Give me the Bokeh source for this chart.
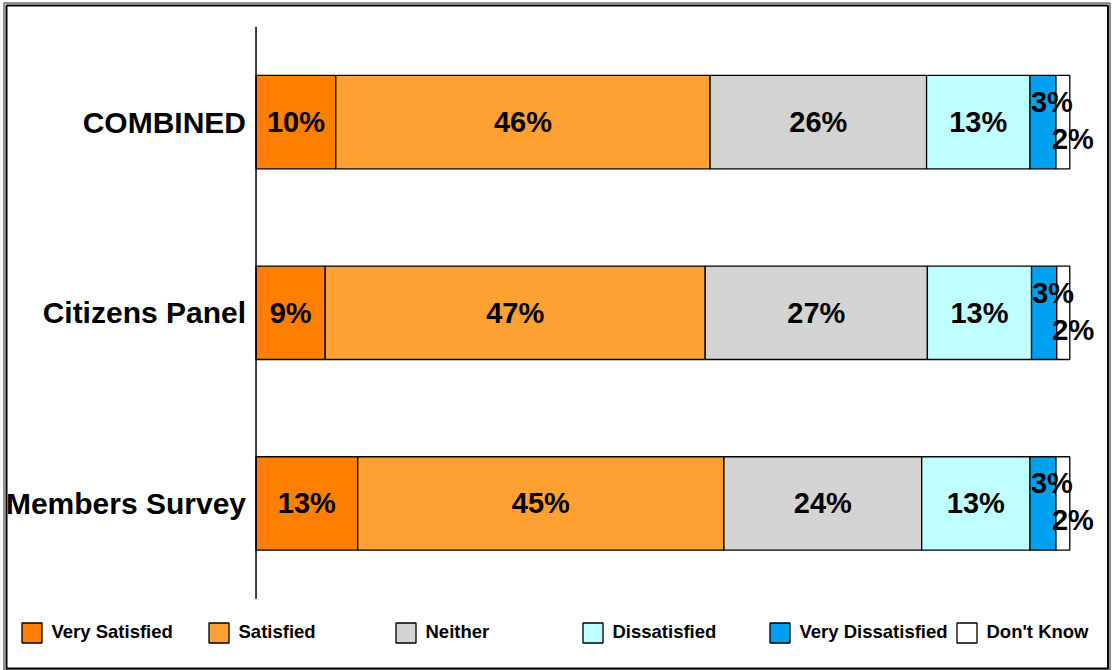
import numpy as np
from bokeh.plotting import figure
from bokeh.models import (ColumnDataSource, Legend, LegendItem, Range1d, BoxAnnotation)
from bokeh.core.properties import value
from bokeh.embed import file_html
from bokeh.resources import INLINE

# ---------------- data ----------------
categories = ["COMBINED", "Citizens Panel", "Members Survey"]
series_names = ["Very Satisfied", "Satisfied", "Neither", "Dissatisfied",
                "Very Dissatisfied", "Don't Know"]

very_satisfied = [9.8, 8.5, 12.5]
satisfied = [46.0, 46.7, 45.0]
neither = [26.6, 27.3, 24.3]
dissatisfied = [12.7, 12.8, 13.3]
very_dissatisfied = [3.2, 3.1, 3.2]
dont_know = [1.7, 1.6, 1.7]

labels_very_satisfied = ["10%", "9%", "13%"]
labels_satisfied = ["46%", "47%", "45%"]
labels_neither = ["26%", "27%", "24%"]
labels_dissatisfied = ["13%", "13%", "13%"]
labels_very_dissatisfied = ["3%", "3%", "3%"]
labels_dont_know = ["2%", "2%", "2%"]

colors = ["#FF8000", "#FFA033", "#D3D3D3", "#C0FFFF", "#00A0F0", "#FFFFFF"]

series_values = [very_satisfied, satisfied, neither, dissatisfied,
                 very_dissatisfied, dont_know]
series_labels = [labels_very_satisfied, labels_satisfied, labels_neither,
                 labels_dissatisfied, labels_very_dissatisfied, labels_dont_know]

# ---------------- figure ----------------
W, H = 1113, 670
n = len(categories)
ypos = np.arange(n)[::-1].astype(float)   # first category on top

p = figure(width=W, height=H,
           x_range=Range1d(-31.40, 105.37),
           y_range=Range1d(-0.876, 2.638),
           x_axis_type=None, y_axis_type=None,
           output_backend="svg", toolbar_location=None,
           min_border=0, min_border_left=0, min_border_right=0,
           min_border_top=0, min_border_bottom=0)

p.outline_line_color = None
p.background_fill_color = "white"
p.border_fill_color = "white"

FONT = value("Liberation Sans")

# bars (stacked)
left = np.zeros(n)
items = []
text_sources = []
for name, vals, labs, col in zip(series_names, series_values, series_labels, colors):
    vals = np.array(vals, dtype=float)
    right = left + vals
    src = ColumnDataSource(dict(y=ypos, left=left.copy(), right=right.copy(),
                                mid=(left + right) / 2, lab=labs))
    r = p.hbar(y="y", left="left", right="right", height=0.49, source=src,
               fill_color=col, line_color="black", line_width=1.3)
    items.append(LegendItem(label=name, renderers=[r]))
    text_sources.append((name, src))
    left = right

# value labels (drawn after all bars)
for name, src in text_sources:
    if name == "Very Dissatisfied":
        xo, yo = 9, -20
    elif name == "Don't Know":
        xo, yo = 10, 17
    else:
        xo, yo = 0, 0
    p.text(x="mid", y="y", text="lab", source=src, text_font=FONT,
           text_font_size="29px", text_font_style="bold", text_color="black",
           text_align="center", text_baseline="middle", x_offset=xo, y_offset=yo)

# category axis: line at 0 spanning the category band, labels to its left
p.segment(x0=[0], y0=[ypos.min() - 0.5], x1=[0], y1=[ypos.max() + 0.5],
          line_color="black", line_width=1.5)
cat_src = ColumnDataSource(dict(x=np.zeros(n), y=ypos, t=categories))
p.text(x="x", y="y", text="t", source=cat_src, text_font=FONT,
       text_font_size="30px", text_font_style="bold", text_color="black",
       text_align="right", text_baseline="middle", x_offset=-10)

legend = Legend(items=items, orientation="horizontal",
                location=(18.5, 25.5),
                glyph_width=25, glyph_height=25, label_standoff=8,
                label_width=150, spacing=4, padding=0, margin=0,
                border_line_color=None, background_fill_alpha=0,
                label_text_font="Liberation Sans", label_text_font_size="18.5px",
                label_text_font_style="bold", label_text_color="black")
p.add_layout(legend)

# double frame around the whole chart
outer = BoxAnnotation(left=3.5, right=1109.5, top=2.5, bottom=669.5,
                      left_units="canvas", right_units="canvas",
                      top_units="canvas", bottom_units="canvas",
                      fill_color=None, fill_alpha=0,
                      line_color="#222222", line_alpha=1, line_width=1)
inner = BoxAnnotation(left=6, right=1107.5, top=5, bottom=668,
                      left_units="canvas", right_units="canvas",
                      top_units="canvas", bottom_units="canvas",
                      fill_color=None, fill_alpha=0,
                      line_color="black", line_alpha=1, line_width=2)
p.add_layout(outer)
p.add_layout(inner)

open("out.html", "w").write(file_html(p, INLINE))
